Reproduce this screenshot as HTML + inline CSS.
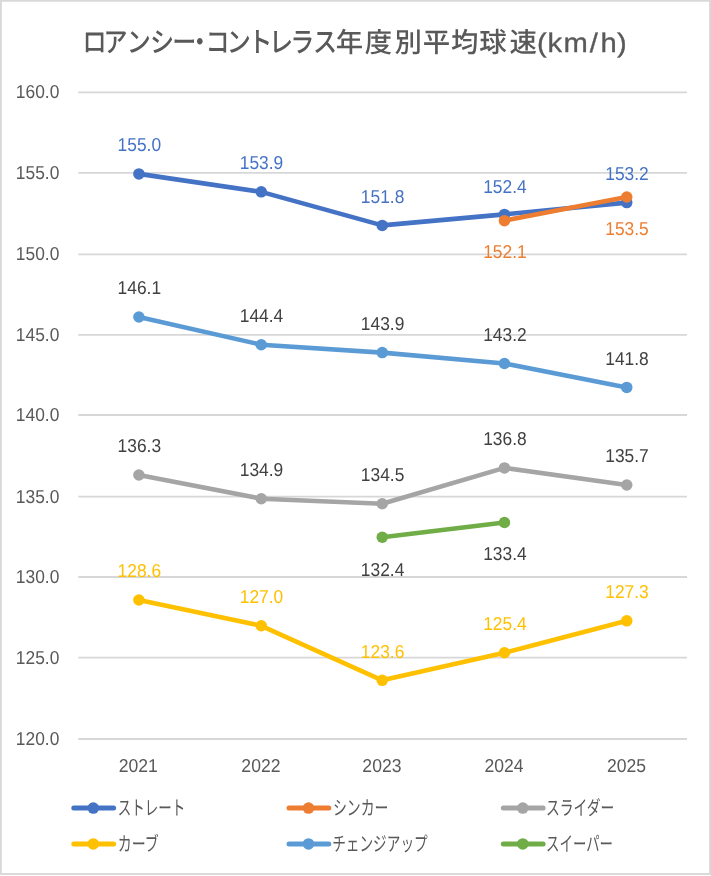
<!DOCTYPE html>
<html lang="ja"><head><meta charset="utf-8"><title>ロアンシー・コントレラス年度別平均球速(km/h)</title>
<style>html,body{margin:0;padding:0;background:#fff}svg{display:block;will-change:transform}text{text-rendering:geometricPrecision;font-family:"Liberation Sans","Noto Sans CJK JP",sans-serif}.n{font-size:18.7px}.ax{fill:#595959}.jp{font-family:"Noto Sans CJK JP","Liberation Sans",sans-serif}</style></head><body>
<svg width="711" height="876" viewBox="0 0 711 876">
<rect x="0" y="0" width="711" height="876" fill="#fff"/>
<rect x="0.9" y="0.8" width="709.2" height="873.2" fill="none" stroke="#d9d9d9" stroke-width="1.9"/>
<line x1="78.3" y1="92.45" x2="687.0" y2="92.45" stroke="#d7d7d7" stroke-width="1.8"/>
<text class="n ax" transform="translate(59.3,98.45) scale(0.93,1)" text-anchor="end">160.0</text>
<line x1="78.3" y1="172.90" x2="687.0" y2="172.90" stroke="#d7d7d7" stroke-width="1.8"/>
<text class="n ax" transform="translate(59.3,178.90) scale(0.93,1)" text-anchor="end">155.0</text>
<line x1="78.3" y1="254.30" x2="687.0" y2="254.30" stroke="#d7d7d7" stroke-width="1.8"/>
<text class="n ax" transform="translate(59.3,260.30) scale(0.93,1)" text-anchor="end">150.0</text>
<line x1="78.3" y1="334.80" x2="687.0" y2="334.80" stroke="#d7d7d7" stroke-width="1.8"/>
<text class="n ax" transform="translate(59.3,340.80) scale(0.93,1)" text-anchor="end">145.0</text>
<line x1="78.3" y1="415.00" x2="687.0" y2="415.00" stroke="#d7d7d7" stroke-width="1.8"/>
<text class="n ax" transform="translate(59.3,421.00) scale(0.93,1)" text-anchor="end">140.0</text>
<line x1="78.3" y1="496.60" x2="687.0" y2="496.60" stroke="#d7d7d7" stroke-width="1.8"/>
<text class="n ax" transform="translate(59.3,502.60) scale(0.93,1)" text-anchor="end">135.0</text>
<line x1="78.3" y1="577.00" x2="687.0" y2="577.00" stroke="#d7d7d7" stroke-width="1.8"/>
<text class="n ax" transform="translate(59.3,583.00) scale(0.93,1)" text-anchor="end">130.0</text>
<line x1="78.3" y1="657.55" x2="687.0" y2="657.55" stroke="#d7d7d7" stroke-width="1.8"/>
<text class="n ax" transform="translate(59.3,663.55) scale(0.93,1)" text-anchor="end">125.0</text>
<line x1="78.3" y1="739.00" x2="687.0" y2="739.00" stroke="#d7d7d7" stroke-width="1.8"/>
<text class="n ax" transform="translate(59.3,745.00) scale(0.93,1)" text-anchor="end">120.0</text>
<text class="n ax" transform="translate(138.2,771.8) scale(0.94,1)" text-anchor="middle">2021</text>
<text class="n ax" transform="translate(260.9,771.8) scale(0.94,1)" text-anchor="middle">2022</text>
<text class="n ax" transform="translate(381.9,771.8) scale(0.94,1)" text-anchor="middle">2023</text>
<text class="n ax" transform="translate(504.1,771.8) scale(0.94,1)" text-anchor="middle">2024</text>
<text class="n ax" transform="translate(626.5,771.8) scale(0.94,1)" text-anchor="middle">2025</text>
<g id="title" fill="#595959" font-weight="500">
<text class="jp" transform="translate(0,52.2) scale(0.86,1)" font-size="28" x="95.84 120.35 147.3 174.36 200.41 218.37 238.95 263.58 288.81 312.79 337.53 364.01" y="0">ロアンシー・コントレラス</text>
<text class="jp" transform="translate(0,52.2)" font-size="27.4" x="335.75 364.8 394.38 422.65 451.02 479.18 509.47" y="0">年度別平均球速</text>
<text transform="translate(0,52.1) scale(1.08,1)" font-size="27" font-weight="400" stroke="#595959" stroke-width="0.35" x="497.25 506.85 521.76 545.97 556.13 571.37" y="0">(km/h)</text>
</g>
<polyline fill="none" stroke="#4472C4" stroke-width="4.6" stroke-linecap="round" stroke-linejoin="round" points="138.90,173.90 261.25,191.85 382.25,225.40 504.45,214.40 626.75,202.60"/>
<circle cx="138.90" cy="173.90" r="5.75" fill="#4472C4"/>
<circle cx="261.25" cy="191.85" r="5.75" fill="#4472C4"/>
<circle cx="382.25" cy="225.40" r="5.75" fill="#4472C4"/>
<circle cx="504.45" cy="214.40" r="5.75" fill="#4472C4"/>
<circle cx="626.75" cy="202.60" r="5.75" fill="#4472C4"/>
<polyline fill="none" stroke="#ED7D31" stroke-width="4.6" stroke-linecap="round" stroke-linejoin="round" points="504.45,220.65 626.75,197.00"/>
<circle cx="504.45" cy="220.65" r="5.75" fill="#ED7D31"/>
<circle cx="626.75" cy="197.00" r="5.75" fill="#ED7D31"/>
<polyline fill="none" stroke="#A5A5A5" stroke-width="4.6" stroke-linecap="round" stroke-linejoin="round" points="138.90,474.95 261.25,498.70 382.25,503.70 504.45,467.90 626.75,484.95"/>
<circle cx="138.90" cy="474.95" r="5.75" fill="#A5A5A5"/>
<circle cx="261.25" cy="498.70" r="5.75" fill="#A5A5A5"/>
<circle cx="382.25" cy="503.70" r="5.75" fill="#A5A5A5"/>
<circle cx="504.45" cy="467.90" r="5.75" fill="#A5A5A5"/>
<circle cx="626.75" cy="484.95" r="5.75" fill="#A5A5A5"/>
<polyline fill="none" stroke="#FFC000" stroke-width="4.6" stroke-linecap="round" stroke-linejoin="round" points="138.90,600.00 261.25,625.80 382.25,680.35 504.45,652.75 626.75,620.85"/>
<circle cx="138.90" cy="600.00" r="5.75" fill="#FFC000"/>
<circle cx="261.25" cy="625.80" r="5.75" fill="#FFC000"/>
<circle cx="382.25" cy="680.35" r="5.75" fill="#FFC000"/>
<circle cx="504.45" cy="652.75" r="5.75" fill="#FFC000"/>
<circle cx="626.75" cy="620.85" r="5.75" fill="#FFC000"/>
<polyline fill="none" stroke="#5B9BD5" stroke-width="4.6" stroke-linecap="round" stroke-linejoin="round" points="138.90,317.00 261.25,344.70 382.25,352.60 504.45,363.50 626.75,387.40"/>
<circle cx="138.90" cy="317.00" r="5.75" fill="#5B9BD5"/>
<circle cx="261.25" cy="344.70" r="5.75" fill="#5B9BD5"/>
<circle cx="382.25" cy="352.60" r="5.75" fill="#5B9BD5"/>
<circle cx="504.45" cy="363.50" r="5.75" fill="#5B9BD5"/>
<circle cx="626.75" cy="387.40" r="5.75" fill="#5B9BD5"/>
<polyline fill="none" stroke="#70AD47" stroke-width="4.6" stroke-linecap="round" stroke-linejoin="round" points="382.25,537.30 504.45,522.45"/>
<circle cx="382.25" cy="537.30" r="5.75" fill="#70AD47"/>
<circle cx="504.45" cy="522.45" r="5.75" fill="#70AD47"/>
<text class="n" transform="translate(139.30,150.90) scale(0.93,1)" text-anchor="middle" fill="#4472C4">155.0</text>
<text class="n" transform="translate(261.45,168.85) scale(0.93,1)" text-anchor="middle" fill="#4472C4">153.9</text>
<text class="n" transform="translate(382.60,202.56) scale(0.93,1)" text-anchor="middle" fill="#4472C4">151.8</text>
<text class="n" transform="translate(504.90,192.56) scale(0.93,1)" text-anchor="middle" fill="#4472C4">152.4</text>
<text class="n" transform="translate(627.00,179.86) scale(0.93,1)" text-anchor="middle" fill="#4472C4">153.2</text>
<text class="n" transform="translate(504.90,258.00) scale(0.93,1)" text-anchor="middle" fill="#ED7D31">152.1</text>
<text class="n" transform="translate(627.00,235.30) scale(0.93,1)" text-anchor="middle" fill="#ED7D31">153.5</text>
<text class="n" transform="translate(139.30,451.90) scale(0.93,1)" text-anchor="middle" fill="#404040">136.3</text>
<text class="n" transform="translate(261.45,475.90) scale(0.93,1)" text-anchor="middle" fill="#404040">134.9</text>
<text class="n" transform="translate(382.60,480.90) scale(0.93,1)" text-anchor="middle" fill="#404040">134.5</text>
<text class="n" transform="translate(504.90,444.95) scale(0.93,1)" text-anchor="middle" fill="#404040">136.8</text>
<text class="n" transform="translate(627.00,461.75) scale(0.93,1)" text-anchor="middle" fill="#404040">135.7</text>
<text class="n" transform="translate(139.30,576.90) scale(0.93,1)" text-anchor="middle" fill="#FFC000">128.6</text>
<text class="n" transform="translate(261.45,602.75) scale(0.93,1)" text-anchor="middle" fill="#FFC000">127.0</text>
<text class="n" transform="translate(382.60,657.50) scale(0.93,1)" text-anchor="middle" fill="#FFC000">123.6</text>
<text class="n" transform="translate(504.90,629.95) scale(0.93,1)" text-anchor="middle" fill="#FFC000">125.4</text>
<text class="n" transform="translate(627.00,598.00) scale(0.93,1)" text-anchor="middle" fill="#FFC000">127.3</text>
<text class="n" transform="translate(139.30,293.85) scale(0.93,1)" text-anchor="middle" fill="#404040">146.1</text>
<text class="n" transform="translate(261.45,321.70) scale(0.93,1)" text-anchor="middle" fill="#404040">144.4</text>
<text class="n" transform="translate(382.60,329.95) scale(0.93,1)" text-anchor="middle" fill="#404040">143.9</text>
<text class="n" transform="translate(504.90,340.80) scale(0.93,1)" text-anchor="middle" fill="#404040">143.2</text>
<text class="n" transform="translate(627.00,364.70) scale(0.93,1)" text-anchor="middle" fill="#404040">141.8</text>
<text class="n" transform="translate(382.60,575.85) scale(0.93,1)" text-anchor="middle" fill="#404040">132.4</text>
<text class="n" transform="translate(504.90,559.75) scale(0.93,1)" text-anchor="middle" fill="#404040">133.4</text>
<line x1="73.8" y1="808.1" x2="113.6" y2="808.1" stroke="#4472C4" stroke-width="5" stroke-linecap="round"/>
<circle cx="93.3" cy="808.1" r="5.75" fill="#4472C4"/>
<text class="jp ax" font-size="20" x="117.7" y="814.7" textLength="67.5" lengthAdjust="spacingAndGlyphs">ストレート</text>
<line x1="289.0" y1="808.1" x2="328.8" y2="808.1" stroke="#ED7D31" stroke-width="5" stroke-linecap="round"/>
<circle cx="308.5" cy="808.1" r="5.75" fill="#ED7D31"/>
<text class="jp ax" font-size="20" x="332.9" y="814.7" textLength="55.6" lengthAdjust="spacingAndGlyphs">シンカー</text>
<line x1="503.3" y1="808.1" x2="543.1" y2="808.1" stroke="#A5A5A5" stroke-width="5" stroke-linecap="round"/>
<circle cx="522.8" cy="808.1" r="5.75" fill="#A5A5A5"/>
<text class="jp ax" font-size="20" x="546.1" y="814.7" textLength="68.2" lengthAdjust="spacingAndGlyphs">スライダー</text>
<line x1="73.8" y1="843.9" x2="113.6" y2="843.9" stroke="#FFC000" stroke-width="5" stroke-linecap="round"/>
<circle cx="93.3" cy="843.9" r="5.75" fill="#FFC000"/>
<text class="jp ax" font-size="20" x="117.7" y="850.5" textLength="41.0" lengthAdjust="spacingAndGlyphs">カーブ</text>
<line x1="289.0" y1="843.9" x2="328.8" y2="843.9" stroke="#5B9BD5" stroke-width="5" stroke-linecap="round"/>
<circle cx="308.5" cy="843.9" r="5.75" fill="#5B9BD5"/>
<text class="jp ax" font-size="20" x="332.2" y="850.5" textLength="95.5" lengthAdjust="spacingAndGlyphs">チェンジアップ</text>
<line x1="503.3" y1="843.9" x2="543.1" y2="843.9" stroke="#70AD47" stroke-width="5" stroke-linecap="round"/>
<circle cx="522.8" cy="843.9" r="5.75" fill="#70AD47"/>
<text class="jp ax" font-size="20" x="546.1" y="850.5" textLength="66.9" lengthAdjust="spacingAndGlyphs">スイーパー</text>
</svg></body></html>
